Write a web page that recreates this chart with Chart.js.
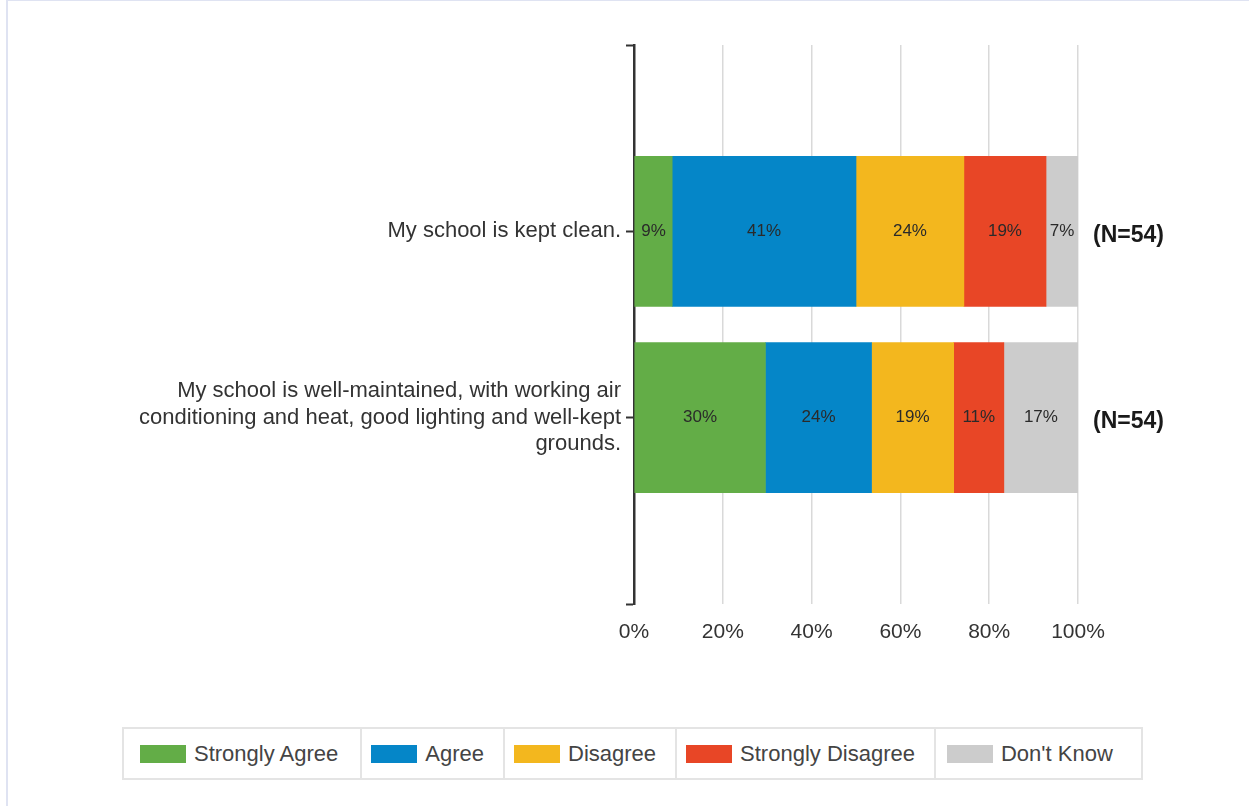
<!DOCTYPE html>
<html>
<head>
<meta charset="utf-8">
<script src="https://cdn.jsdelivr.net/npm/chart.js@4"></script>
<style>
    body { margin: 0; background: #fff; }
    #frame {
        position: absolute; left: 6px; top: 0; width: 1243px; height: 806px;
        border-left: 2px solid #dfe3f2; border-top: 1px solid #dfe3f2; box-sizing: border-box;
    }
    #chartBox { position: absolute; left: 0; top: 0; width: 1249px; height: 700px; }
    #legend {
        position: absolute; left: 122px; top: 727px; height: 53px;
        display: flex; border: 2px solid #e4e4e4; box-sizing: border-box;
        font-family: "Liberation Sans", Arial, sans-serif; font-size: 22px; color: #444;
    }
    #legend .cell {
        display: flex; align-items: center; padding: 0 19px 0 9px;
        border-left: 2px solid #e4e4e4;
    }
    #legend .cell:first-child { border-left: none; padding-left: 16px; padding-right: 22px; }
    #legend .cell:last-child { padding-left: 11px; padding-right: 28px; }
    #legend .swatch { width: 46px; height: 18px; margin-right: 8px; }
</style>
</head>
<body>
<div id="frame"></div>
<div id="chartBox"><canvas id="myChart" width="1249" height="700"></canvas></div>
<div id="legend"></div>
<script>
const questions = [
    'My school is kept clean.',
    ['My school is well-maintained, with working air', 'conditioning and heat, good lighting and well-kept', 'grounds.']
];
const responseCounts = [54, 54];

const seriesNames = ['Strongly Agree', 'Agree', 'Disagree', 'Strongly Disagree', "Don't Know"];
const seriesColors = ['#63ad47', '#0586c8', '#f3b71e', '#e84626', '#cccccc'];

const stronglyAgree = [8.6, 29.6];
const agree = [41.4, 23.9];
const disagree = [24.3, 18.5];
const stronglyDisagree = [18.5, 11.3];
const dontKnow = [7.2, 16.7];
const seriesValues = [stronglyAgree, agree, disagree, stronglyDisagree, dontKnow];

// empty slots above and below so the two bars sit at 1/3 and 2/3 of the axis
const labels = [''].concat(questions, ['']);

const datasets = seriesNames.map(function(name, i) {
    return {
        label: name,
        data: [null].concat(seriesValues[i], [null]),
        backgroundColor: seriesColors[i],
        borderWidth: 0,
        barThickness: 150
    };
});

const barLabels = {
    id: 'barLabels',
    afterDatasetsDraw(chart) {
        const ctx = chart.ctx;
        ctx.save();
        ctx.font = '17px "Liberation Sans", Arial, sans-serif';
        ctx.fillStyle = '#2a2a2a';
        ctx.textAlign = 'center';
        ctx.textBaseline = 'middle';
        chart.data.datasets.forEach(function(ds, i) {
            chart.getDatasetMeta(i).data.forEach(function(bar, j) {
                const v = ds.data[j];
                if (v == null) return;
                const c = bar.getCenterPoint();
                ctx.fillText(Math.round(v) + '%', c.x, c.y);
            });
        });
        // N counts to the right of each bar
        ctx.font = 'bold 23px "Liberation Sans", Arial, sans-serif';
        ctx.fillStyle = '#1a1a1a';
        ctx.textAlign = 'left';
        const yScale = chart.scales.y;
        responseCounts.forEach(function(n, k) {
            ctx.fillText('(N=' + n + ')', chart.chartArea.right + 15, yScale.getPixelForValue(k + 1) + 4);
        });
        ctx.restore();
    }
};

const ctx = document.getElementById('myChart').getContext('2d');
new Chart(ctx, {
    type: 'bar',
    data: { labels: labels, datasets: datasets },
    options: {
        indexAxis: 'y',
        responsive: false,
        animation: false,
        layout: { padding: { top: 45, right: 171, left: 0, bottom: 0 } },
        plugins: { legend: { display: false }, tooltip: { enabled: false } },
        scales: {
            x: {
                stacked: true,
                min: 0,
                max: 100,
                ticks: {
                    stepSize: 20,
                    callback: function(v) { return v + '%'; },
                    font: { family: '"Liberation Sans", Arial, sans-serif', size: 21 },
                    color: '#333',
                    padding: 16
                },
                grid: { color: '#d9d9d9', lineWidth: 1.5, drawTicks: false },
                border: { display: false },
                afterFit: function(scale) { scale.height = 96; }
            },
            y: {
                stacked: true,
                offset: false,
                ticks: {
                    font: { family: '"Liberation Sans", Arial, sans-serif', size: 22 },
                    color: '#333',
                    padding: 5
                },
                grid: {
                    offset: false,
                    drawOnChartArea: false,
                    drawTicks: true,
                    tickLength: 8,
                    tickColor: '#333',
                    tickWidth: 2
                },
                border: { color: '#333', width: 2.5 },
                afterFit: function(scale) { scale.width = 634; }
            }
        }
    },
    plugins: [barLabels]
});

const legend = document.getElementById('legend');
seriesNames.forEach(function(name, i) {
    const cell = document.createElement('div');
    cell.className = 'cell';
    const sw = document.createElement('span');
    sw.className = 'swatch';
    sw.style.background = seriesColors[i];
    const tx = document.createElement('span');
    tx.textContent = name;
    cell.appendChild(sw);
    cell.appendChild(tx);
    legend.appendChild(cell);
});
</script>
</body>
</html>
